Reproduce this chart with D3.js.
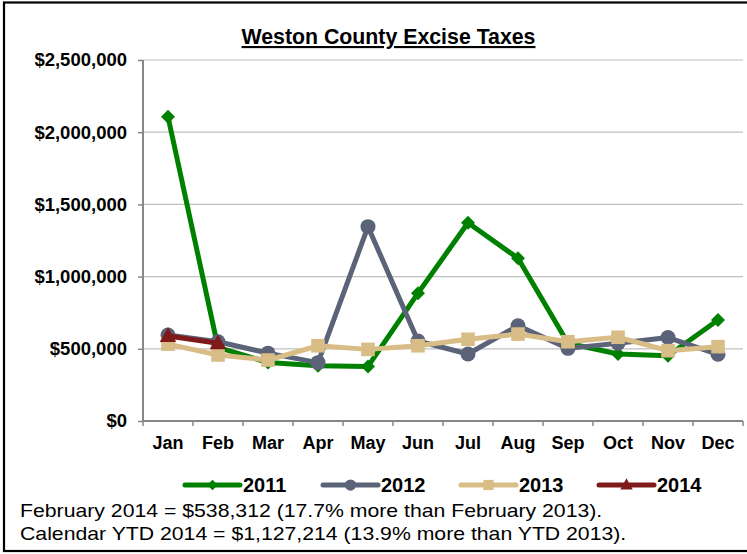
<!DOCTYPE html>
<html><head><meta charset="utf-8">
<script src="https://cdn.jsdelivr.net/npm/d3@7"></script>
<style>html,body{margin:0;padding:0;background:#fff;}svg{display:block;}</style>
</head><body>
<script>
const months = ["Jan","Feb","Mar","Apr","May","Jun","Jul","Aug","Sep","Oct","Nov","Dec"];
const v2011 = [2107000, 510000, 405000, 382000, 378000, 885000, 1373000, 1127000, 538000, 464000, 452000, 699000];
const v2012 = [596000, 549000, 470000, 404000, 1346000, 554000, 464000, 660000, 503000, 538000, 578000, 462000];
const v2013 = [532292, 457360, 422000, 521000, 496000, 521000, 566000, 602000, 549000, 580000, 487000, 515000];
const v2014 = [588902, 538312];
const yTicks = [0, 500000, 1000000, 1500000, 2000000, 2500000];
const seriesNames = ["2011","2012","2013","2014"];
const titleText = "Weston County Excise Taxes";
const notes = ["February 2014 = $538,312 (17.7% more than February 2013).",
               "Calendar YTD 2014 = $1,127,214 (13.9% more than YTD 2013)."];

const series = [
  {name: seriesNames[0], values: v2011, color: "#008000", shape: "diamond"},
  {name: seriesNames[1], values: v2012, color: "#5B6379", shape: "circle"},
  {name: seriesNames[2], values: v2013, color: "#D9BD86", shape: "square"},
  {name: seriesNames[3], values: v2014, color: "#7F1A1A", shape: "triangle"}
];

const W = 747, H = 554;
const svg = d3.select("body").append("svg").attr("width", W).attr("height", H);
svg.append("rect").attr("width", W).attr("height", H).attr("fill", "#fff");

const pLeft = 143, pRight = 743, pTop = 60, pBottom = 421;
const x = d3.scaleBand().domain(months).range([pLeft, pRight]).paddingInner(0).paddingOuter(0);
const y = d3.scaleLinear().domain([0, 2500000]).range([pBottom, pTop]);
const cx = m => x(m) + x.bandwidth() / 2;

// frame
svg.append("rect").attr("x", 4).attr("y", 2.5).attr("width", 800).attr("height", 548.5)
  .attr("fill", "none").attr("stroke", "#000").attr("stroke-width", 2.2);

// title
svg.append("text").attr("x", 388.5).attr("y", 44).attr("text-anchor", "middle")
  .attr("font-family", "Liberation Sans, Arial, sans-serif").attr("font-weight", "bold")
  .attr("font-size", 21.3).attr("text-decoration", "underline").attr("fill", "#000")
  .text(titleText);

// gridlines
svg.append("g").selectAll("line").data(yTicks.filter(d => d > 0)).join("line")
  .attr("x1", pLeft).attr("x2", pRight).attr("y1", d => y(d)).attr("y2", d => y(d))
  .attr("stroke", "#BFBFBF").attr("stroke-width", 1.2);

// y axis
const yAxis = svg.append("g").attr("transform", `translate(${pLeft},0)`)
  .call(d3.axisLeft(y).tickValues(yTicks).tickFormat(d3.format("$,")).tickSize(5).tickPadding(11));
yAxis.select(".domain").attr("stroke", "#868686").attr("stroke-width", 2).attr("d", `M0,${pTop}V${pBottom}`);
yAxis.selectAll(".tick line").attr("stroke", "#868686").attr("stroke-width", 1.5);
yAxis.selectAll("text").attr("font-family", "Liberation Sans, Arial, sans-serif")
  .attr("font-weight", "bold").attr("font-size", 18.5).attr("fill", "#000");

// x axis
const xAxis = svg.append("g").attr("transform", `translate(0,${pBottom})`)
  .call(d3.axisBottom(x).tickSize(0).tickPadding(15));
xAxis.select(".domain").attr("stroke", "#868686").attr("stroke-width", 2).attr("d", `M${pLeft},0H${pRight}`);
xAxis.selectAll("text").attr("font-family", "Liberation Sans, Arial, sans-serif")
  .attr("font-weight", "bold").attr("font-size", 18).attr("fill", "#000");
const edges = months.map(m => x(m)).concat([x(months[months.length - 1]) + x.bandwidth()]);
xAxis.selectAll(".edge").data(edges).join("line").attr("class", "edge")
  .attr("x1", d => d).attr("x2", d => d).attr("y1", 0).attr("y2", 5)
  .attr("stroke", "#868686").attr("stroke-width", 1.5);

function drawMarker(g, shape, color, px, py, s) {
  if (shape === "diamond") {
    g.append("path").attr("d", `M${px},${py - s}L${px + s},${py}L${px},${py + s}L${px - s},${py}Z`).attr("fill", color);
  } else if (shape === "circle") {
    g.append("circle").attr("cx", px).attr("cy", py).attr("r", s).attr("fill", color);
  } else if (shape === "square") {
    g.append("rect").attr("x", px - s).attr("y", py - s).attr("width", 2 * s).attr("height", 2 * s).attr("fill", color);
  } else {
    g.append("path").attr("d", `M${px},${py - s * 1.2}L${px + s * 1.1},${py + s * 0.8}L${px - s * 1.1},${py + s * 0.8}Z`).attr("fill", color);
  }
}
const sizes = {diamond: 7, circle: 7.5, square: 6.8, triangle: 7.5};

const line = d3.line().x((d, i) => cx(months[i])).y(d => y(d));
series.forEach(s => {
  const g = svg.append("g");
  g.append("path").datum(s.values).attr("d", line).attr("fill", "none")
    .attr("stroke", s.color).attr("stroke-width", 5).attr("stroke-linejoin", "round");
  s.values.forEach((v, i) => drawMarker(g, s.shape, s.color, cx(months[i]), y(v), sizes[s.shape]));
});

// legend
const legY = 485;
series.forEach((s, i) => {
  const x0 = 185 + i * 138;
  const g = svg.append("g");
  g.append("line").attr("x1", x0).attr("x2", x0 + 55).attr("y1", legY).attr("y2", legY)
    .attr("stroke", s.color).attr("stroke-width", 5).attr("stroke-linecap", "round");
  drawMarker(g, s.shape, s.color, x0 + 27.5, legY, sizes[s.shape] * 0.75);
  g.append("text").attr("x", x0 + 58).attr("y", legY + 7)
    .attr("font-family", "Liberation Sans, Arial, sans-serif").attr("font-weight", "bold")
    .attr("font-size", 20).attr("fill", "#000").text(s.name);
});

// notes (reference text is horizontally stretched)
notes.forEach((t, i) => {
  svg.append("text").attr("transform", `translate(20,${517 + i * 23}) scale(1.18,1)`)
    .attr("font-family", "Liberation Sans, Arial, sans-serif").attr("font-size", 18)
    .attr("fill", "#000").text(t);
});
</script>
</body></html>
